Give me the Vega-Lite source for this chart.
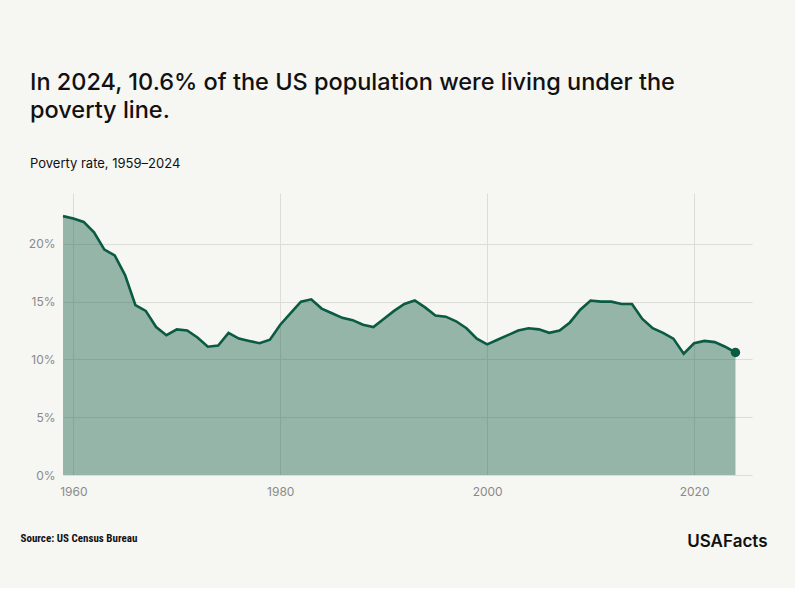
{
  "$schema": "https://vega.github.io/schema/vega-lite/v6.json",
  "width": 689,
  "height": 282,
  "autosize": {"type": "none"},
  "padding": {"left": 63, "top": 193, "right": 43, "bottom": 113},
  "background": "#f6f6f2",
  "config": {
    "view": {"stroke": null},
    "axis": {
      "labelFont": "Inter",
      "labelFontSize": 12,
      "labelColor": "#8a8a8a",
      "domain": false,
      "ticks": false,
      "gridColor": "#dddcd7",
      "gridWidth": 1
    }
  },
  "title": {
    "text": ["In 2024, 10.6% of the US population were living under the", "poverty line."],
    "subtitle": "Poverty rate, 1959–2024",
    "anchor": "start",
    "frame": "group",
    "dx": -33,
    "offset": 22,
    "font": "Inter",
    "fontSize": 23.5,
    "fontWeight": 500,
    "color": "#111111",
    "lineHeight": 28,
    "subtitleFont": "Inter",
    "subtitleFontSize": 13,
    "subtitleColor": "#111111",
    "subtitlePadding": 36
  },
  "data": {
    "values": [
      {"year": 1959, "rate": 22.4}, {"year": 1960, "rate": 22.2}, {"year": 1961, "rate": 21.9},
      {"year": 1962, "rate": 21.0}, {"year": 1963, "rate": 19.5}, {"year": 1964, "rate": 19.0},
      {"year": 1965, "rate": 17.3}, {"year": 1966, "rate": 14.7}, {"year": 1967, "rate": 14.2},
      {"year": 1968, "rate": 12.8}, {"year": 1969, "rate": 12.1}, {"year": 1970, "rate": 12.6},
      {"year": 1971, "rate": 12.5}, {"year": 1972, "rate": 11.9}, {"year": 1973, "rate": 11.1},
      {"year": 1974, "rate": 11.2}, {"year": 1975, "rate": 12.3}, {"year": 1976, "rate": 11.8},
      {"year": 1977, "rate": 11.6}, {"year": 1978, "rate": 11.4}, {"year": 1979, "rate": 11.7},
      {"year": 1980, "rate": 13.0}, {"year": 1981, "rate": 14.0}, {"year": 1982, "rate": 15.0},
      {"year": 1983, "rate": 15.2}, {"year": 1984, "rate": 14.4}, {"year": 1985, "rate": 14.0},
      {"year": 1986, "rate": 13.6}, {"year": 1987, "rate": 13.4}, {"year": 1988, "rate": 13.0},
      {"year": 1989, "rate": 12.8}, {"year": 1990, "rate": 13.5}, {"year": 1991, "rate": 14.2},
      {"year": 1992, "rate": 14.8}, {"year": 1993, "rate": 15.1}, {"year": 1994, "rate": 14.5},
      {"year": 1995, "rate": 13.8}, {"year": 1996, "rate": 13.7}, {"year": 1997, "rate": 13.3},
      {"year": 1998, "rate": 12.7}, {"year": 1999, "rate": 11.8}, {"year": 2000, "rate": 11.3},
      {"year": 2001, "rate": 11.7}, {"year": 2002, "rate": 12.1}, {"year": 2003, "rate": 12.5},
      {"year": 2004, "rate": 12.7}, {"year": 2005, "rate": 12.6}, {"year": 2006, "rate": 12.3},
      {"year": 2007, "rate": 12.5}, {"year": 2008, "rate": 13.2}, {"year": 2009, "rate": 14.3},
      {"year": 2010, "rate": 15.1}, {"year": 2011, "rate": 15.0}, {"year": 2012, "rate": 15.0},
      {"year": 2013, "rate": 14.8}, {"year": 2014, "rate": 14.8}, {"year": 2015, "rate": 13.5},
      {"year": 2016, "rate": 12.7}, {"year": 2017, "rate": 12.3}, {"year": 2018, "rate": 11.8},
      {"year": 2019, "rate": 10.5}, {"year": 2020, "rate": 11.4}, {"year": 2021, "rate": 11.6},
      {"year": 2022, "rate": 11.5}, {"year": 2023, "rate": 11.1}, {"year": 2024, "rate": 10.6}
    ]
  },
  "encoding": {
    "x": {
      "field": "year",
      "type": "quantitative",
      "scale": {"domain": [1959, 2025.6], "nice": false, "zero": false}
    },
    "y": {
      "field": "rate",
      "type": "quantitative",
      "scale": {"domain": [0, 24.4], "nice": false}
    }
  },
  "layer": [
    {
      "mark": {"type": "area", "color": "#0b5a43", "opacity": 0.42},
      "encoding": {
        "x": {
          "field": "year",
          "type": "quantitative",
          "axis": {
            "values": [1960, 1980, 2000, 2020],
            "format": "d",
            "labelPadding": 11,
            "title": "Source: US Census Bureau",
            "titleAnchor": "start",
            "titleAlign": "left",
            "titleX": -43,
            "titleY": 63,
            "titleBaseline": "middle",
            "titleFont": "Roboto Condensed, Roboto, sans-serif",
            "titleFontSize": 11,
            "titleFontWeight": "bold",
            "titleColor": "#111111"
          }
        },
        "y": {
          "field": "rate",
          "type": "quantitative",
          "axis": {
            "values": [0, 5, 10, 15, 20],
            "labelExpr": "datum.value + '%'",
            "labelPadding": 8,
            "title": null
          }
        }
      }
    },
    {
      "mark": {"type": "line", "color": "#0b5a43", "strokeWidth": 2.6},
      "encoding": {
        "y": {"field": "rate", "type": "quantitative", "axis": null}
      }
    },
    {
      "transform": [{"filter": "datum.year == 2024"}],
      "mark": {"type": "circle", "color": "#0b5a43", "opacity": 1, "size": 90},
      "encoding": {
        "y": {
          "field": "rate",
          "type": "quantitative",
          "axis": {
            "orient": "right",
            "labels": false,
            "grid": false,
            "title": "USAFacts",
            "titleAngle": 0,
            "titleX": 15,
            "titleY": 348,
            "titleAlign": "right",
            "titleBaseline": "middle",
            "titleFont": "Inter",
            "titleFontSize": 17,
            "titleFontWeight": 600,
            "titleColor": "#111111"
          }
        }
      }
    }
  ],
  "resolve": {"axis": {"y": "independent"}}
}
